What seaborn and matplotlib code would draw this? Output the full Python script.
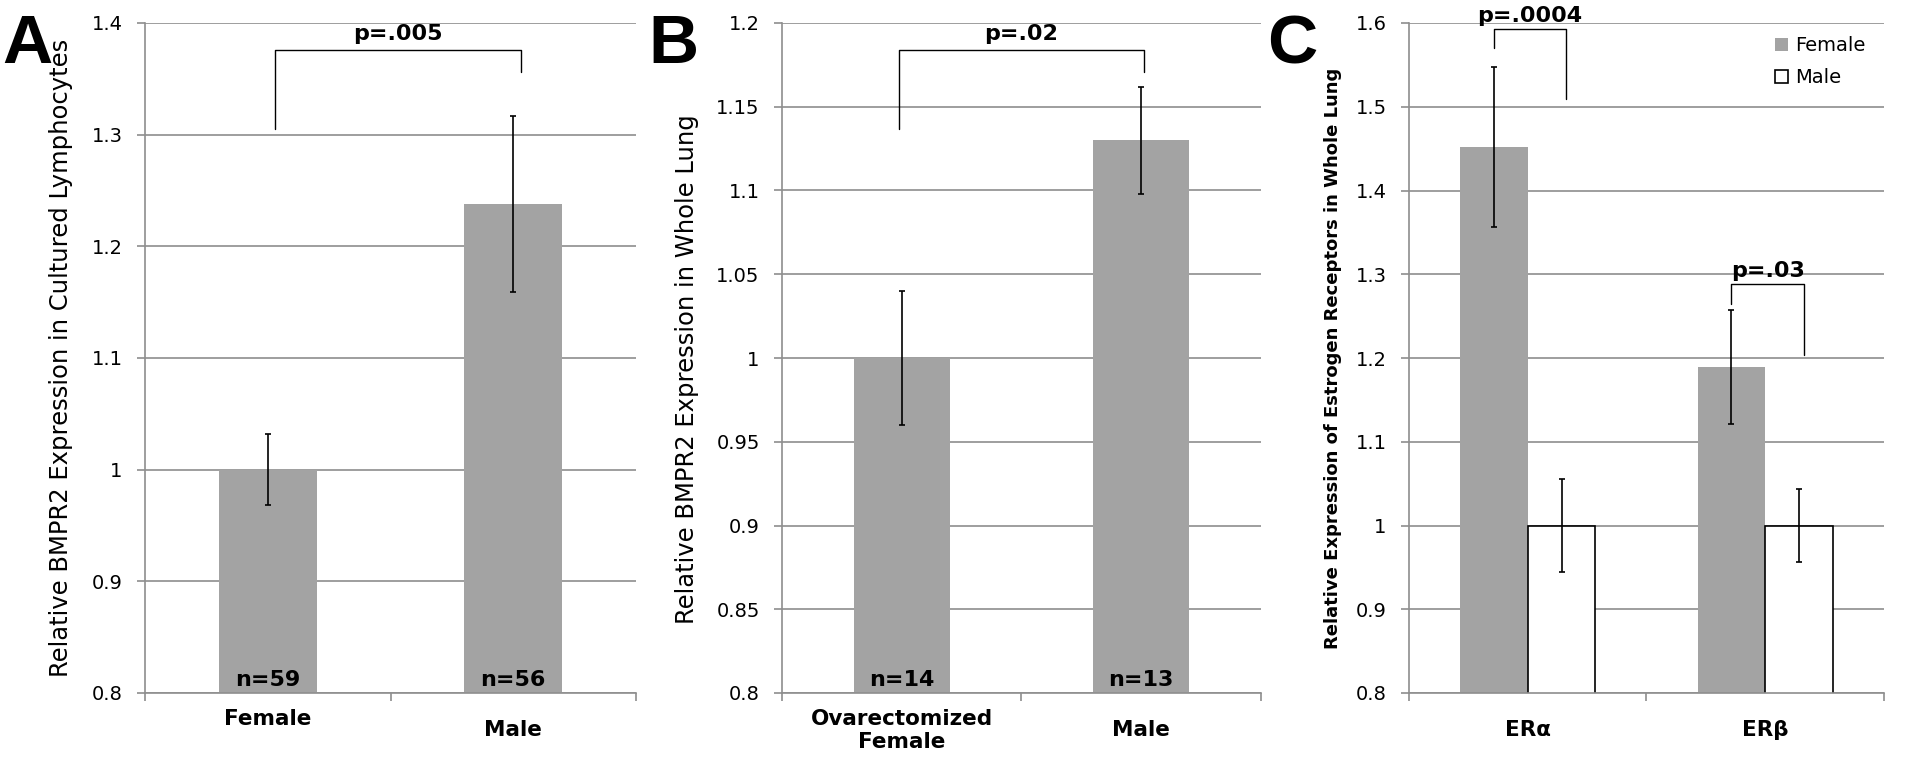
import matplotlib
matplotlib.use("Agg")
import matplotlib.pyplot as plt
import matplotlib.patches as mpatches
import pandas as pd
import seaborn as sns

sns.set_style("white")
plt.rcParams["font.family"] = ["DejaVu Sans"]
plt.rcParams.update({"text.color": "black", "axes.labelcolor": "black",
                     "xtick.color": "black", "ytick.color": "black"})

BAR_GRAY = "#a3a3a3"
GRID_GRAY = "#8e8e8e"

# panel A: cultured lymphocytes
A_GROUPS = ["Female\n", "Male"]
A_VALUES = [1.0, 1.238]
A_ERR = [0.032, 0.079]
A_N = ["n=59", "n=56"]
A_YTICKS = [0.8, 0.9, 1.0, 1.1, 1.2, 1.3, 1.4]
A_P = "p=.005"

# panel B: whole lung
B_GROUPS = ["Ovarectomized\nFemale", "Male"]
B_VALUES = [1.0, 1.13]
B_ERR = [0.04, 0.032]
B_N = ["n=14", "n=13"]
B_YTICKS = [0.8, 0.85, 0.9, 0.95, 1.0, 1.05, 1.1, 1.15, 1.2]
B_P = "p=.02"

# panel C: estrogen receptors
C_RECEPTORS = ["ERα", "ERβ"]
C_SEXES = ["Female", "Male"]
C_FEMALE = [1.452, 1.189]
C_MALE = [1.0, 1.0]
C_FEMALE_ERR = [0.096, 0.068]
C_MALE_ERR = [0.056, 0.043]
C_YTICKS = [0.8, 0.9, 1.0, 1.1, 1.2, 1.3, 1.4, 1.5, 1.6]
C_P = ["p=.0004", "p=.03"]


def style_axis(ax, yticks, ylabel, label_x, label_y=0.5, bold=False, size=17.5):
    ax.set_ylim(yticks[0], yticks[-1])
    ax.set_yticks(yticks)
    ax.set_yticklabels([f"{t:g}" for t in yticks], fontsize=14)
    ax.set_axisbelow(True)
    ax.yaxis.grid(True, color=GRID_GRAY, lw=1.2)
    ax.xaxis.grid(False)
    for s in ["top", "right"]:
        ax.spines[s].set_visible(False)
    for s in ["left", "bottom"]:
        ax.spines[s].set_color(GRID_GRAY); ax.spines[s].set_linewidth(1.2)
    ax.tick_params(axis="y", left=True, length=5.6, width=1.2, color=GRID_GRAY,
                   labelcolor="black", pad=10.5)
    ax.set_xlim(-0.5, 1.5)
    ax.set_xticks([-0.5, 0.5, 1.5], minor=True)
    ax.tick_params(axis="x", which="minor", bottom=True, length=5.8, width=1.2, color=GRID_GRAY)
    ax.tick_params(axis="x", which="major", bottom=True, length=0, pad=27,
                   labelsize=15.5, labelcolor="black")
    for lbl in ax.get_xticklabels():
        lbl.set_fontweight("bold"); lbl.set_va("center")
    ax.set_xlabel("")
    ax.set_ylabel(ylabel, fontsize=size, fontweight="bold" if bold else "normal",
                  va="center", color="black")
    ax.yaxis.set_label_coords(label_x, label_y)


def bracket(ax, x0, x1, yl, yt, yr, text, text_y):
    ax.plot([x0, x0, x1, x1], [yl, yt, yt, yr], color="black", lw=1.0, clip_on=False)
    ax.text((x0 + x1) / 2, text_y, text, ha="center", va="baseline",
            fontsize=16, fontweight="bold", clip_on=False)


def simple_panel(ax, groups, values, errs, ns):
    df = pd.DataFrame({"group": groups, "value": values})
    sns.barplot(data=df, x="group", y="value", color=BAR_GRAY, saturation=1,
                width=0.4, errorbar=None, ax=ax)
    bars = sorted(ax.patches, key=lambda p: p.get_x())
    centers = [p.get_x() + p.get_width() / 2 for p in bars]
    for p in bars:
        p.set_edgecolor("none")
    ax.errorbar(centers, values, yerr=errs, fmt="none", ecolor="black",
                elinewidth=1.2, capsize=2.5, capthick=1.2, zorder=3)
    for c, n in zip(centers, ns):
        ax.text(c, 0.011, n, transform=ax.get_xaxis_transform(), ha="center",
                va="baseline", fontsize=16, fontweight="bold")
    return centers


fig = plt.figure(figsize=(19.33, 7.63), dpi=100)
W, H = 1933, 763
axA = fig.add_axes([145 / W, 1 - 693 / H, 491 / W, 670 / H])
axB = fig.add_axes([782 / W, 1 - 693 / H, 479 / W, 670 / H])
axC = fig.add_axes([1409 / W, 1 - 693 / H, 475 / W, 670 / H])

# A
simple_panel(axA, A_GROUPS, A_VALUES, A_ERR, A_N)
style_axis(axA, A_YTICKS, "Relative BMPR2 Expression in Cultured Lymphocytes", -0.171)
bracket(axA, 0.03, 1.03, 1.305, 1.3756, 1.356, A_P, 1.3847)

# B
simple_panel(axB, B_GROUPS, B_VALUES, B_ERR, B_N)
style_axis(axB, B_YTICKS, "Relative BMPR2 Expression in Whole Lung", -0.199, 0.484)
bracket(axB, -0.01, 1.01, 1.137, 1.1837, 1.171, B_P, 1.1898)

# C
dfC = pd.DataFrame({
    "receptor": C_RECEPTORS * 2,
    "sex": ["Female"] * 2 + ["Male"] * 2,
    "value": C_FEMALE + C_MALE,
    "err": C_FEMALE_ERR + C_MALE_ERR,
})
sns.barplot(data=dfC, x="receptor", y="value", hue="sex", hue_order=C_SEXES,
            palette={"Female": BAR_GRAY, "Male": "white"}, saturation=1,
            width=0.57, gap=0, errorbar=None, legend=False, ax=axC)
barsC = sorted(axC.patches, key=lambda p: p.get_x())
order = {**{r: i for i, r in enumerate(C_RECEPTORS)}, **{x: i for i, x in enumerate(C_SEXES)}}
dfC = dfC.sort_values(["receptor", "sex"], key=lambda s: s.map(order))
centersC = [p.get_x() + p.get_width() / 2 for p in barsC]
for p, sex in zip(barsC, dfC["sex"]):
    if sex == "Male":
        p.set_edgecolor("black"); p.set_linewidth(1.2)
    else:
        p.set_edgecolor("none")
axC.errorbar(centersC, dfC["value"], yerr=dfC["err"], fmt="none", ecolor="black",
             elinewidth=1.2, capsize=2.5, capthick=1.2, zorder=3)
style_axis(axC, C_YTICKS, "Relative Expression of Estrogen Receptors in Whole Lung",
           -0.160, bold=True, size=13)
bracket(axC, centersC[0], centersC[1] + 0.02, 1.5697, 1.593, 1.5087, C_P[0], 1.6015)
bracket(axC, centersC[2], centersC[3] + 0.02, 1.265, 1.288, 1.204, C_P[1], 1.297)

handles = [mpatches.Patch(facecolor=BAR_GRAY, edgecolor="none"),
           mpatches.Patch(facecolor="white", edgecolor="black", lw=1.2)]
axC.legend(handles, C_SEXES, loc="upper left", bbox_to_anchor=(0.77, 0.98),
           frameon=False, fontsize=14, handlelength=0.67, handleheight=0.67,
           handletextpad=0.4, labelspacing=0.67, borderpad=0, borderaxespad=0)

for letter, x in [("A", 2), ("B", 648), ("C", 1267)]:
    fig.text(x / W, 1 - 13 / H, letter, fontsize=50, fontweight="bold",
             family="Liberation Sans", ha="left", va="top", color="black")

fig.savefig("out.png", dpi=100)
